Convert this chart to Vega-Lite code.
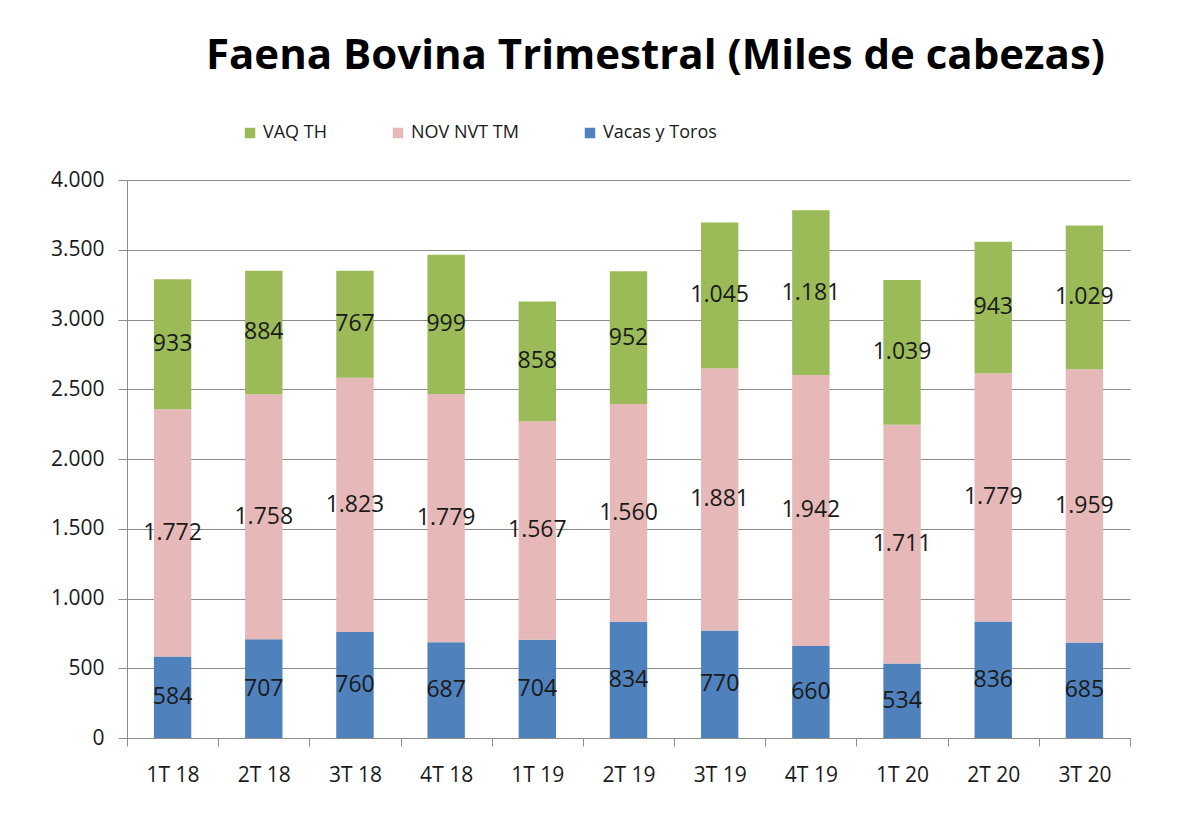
{
  "$schema": "https://vega.github.io/schema/vega-lite/v6.json",
  "autosize": {"type": "none"},
  "width": 1003,
  "height": 558,
  "padding": {"left": 127, "top": 180, "right": 48, "bottom": 85},
  "background": "white",
  "config": {
    "locale": {"number": {"decimal": ",", "thousands": ".", "grouping": [3], "currency": ["$", ""]}},
    "font": "Open Sans",
    "view": {"stroke": null}
  },
  "title": {
    "text": "Faena Bovina Trimestral (Miles de cabezas)",
    "font": "Open Sans",
    "fontSize": 42,
    "fontWeight": "bold",
    "color": "#000000",
    "anchor": "middle",
    "frame": "group",
    "dx": 27,
    "offset": 46
  },
  "data": {
    "values": [
      {"q": "1T 18", "serie": "Vacas y Toros", "orden": 1, "v": 584},
      {"q": "1T 18", "serie": "NOV NVT TM", "orden": 2, "v": 1772},
      {"q": "1T 18", "serie": "VAQ TH", "orden": 3, "v": 933},
      {"q": "2T 18", "serie": "Vacas y Toros", "orden": 1, "v": 707},
      {"q": "2T 18", "serie": "NOV NVT TM", "orden": 2, "v": 1758},
      {"q": "2T 18", "serie": "VAQ TH", "orden": 3, "v": 884},
      {"q": "3T 18", "serie": "Vacas y Toros", "orden": 1, "v": 760},
      {"q": "3T 18", "serie": "NOV NVT TM", "orden": 2, "v": 1823},
      {"q": "3T 18", "serie": "VAQ TH", "orden": 3, "v": 767},
      {"q": "4T 18", "serie": "Vacas y Toros", "orden": 1, "v": 687},
      {"q": "4T 18", "serie": "NOV NVT TM", "orden": 2, "v": 1779},
      {"q": "4T 18", "serie": "VAQ TH", "orden": 3, "v": 999},
      {"q": "1T 19", "serie": "Vacas y Toros", "orden": 1, "v": 704},
      {"q": "1T 19", "serie": "NOV NVT TM", "orden": 2, "v": 1567},
      {"q": "1T 19", "serie": "VAQ TH", "orden": 3, "v": 858},
      {"q": "2T 19", "serie": "Vacas y Toros", "orden": 1, "v": 834},
      {"q": "2T 19", "serie": "NOV NVT TM", "orden": 2, "v": 1560},
      {"q": "2T 19", "serie": "VAQ TH", "orden": 3, "v": 952},
      {"q": "3T 19", "serie": "Vacas y Toros", "orden": 1, "v": 770},
      {"q": "3T 19", "serie": "NOV NVT TM", "orden": 2, "v": 1881},
      {"q": "3T 19", "serie": "VAQ TH", "orden": 3, "v": 1045},
      {"q": "4T 19", "serie": "Vacas y Toros", "orden": 1, "v": 660},
      {"q": "4T 19", "serie": "NOV NVT TM", "orden": 2, "v": 1942},
      {"q": "4T 19", "serie": "VAQ TH", "orden": 3, "v": 1181},
      {"q": "1T 20", "serie": "Vacas y Toros", "orden": 1, "v": 534},
      {"q": "1T 20", "serie": "NOV NVT TM", "orden": 2, "v": 1711},
      {"q": "1T 20", "serie": "VAQ TH", "orden": 3, "v": 1039},
      {"q": "2T 20", "serie": "Vacas y Toros", "orden": 1, "v": 836},
      {"q": "2T 20", "serie": "NOV NVT TM", "orden": 2, "v": 1779},
      {"q": "2T 20", "serie": "VAQ TH", "orden": 3, "v": 943},
      {"q": "3T 20", "serie": "Vacas y Toros", "orden": 1, "v": 685},
      {"q": "3T 20", "serie": "NOV NVT TM", "orden": 2, "v": 1959},
      {"q": "3T 20", "serie": "VAQ TH", "orden": 3, "v": 1029}
    ]
  },
  "transform": [
    {"stack": "v", "groupby": ["q"], "sort": [{"field": "orden", "order": "ascending"}], "as": ["y0", "y1"]},
    {"calculate": "(datum.y0 + datum.y1) / 2", "as": "ymid"}
  ],
  "encoding": {
    "x": {
      "field": "q",
      "type": "nominal",
      "sort": null,
      "title": null,
      "scale": {"paddingInner": 0, "paddingOuter": 0},
      "axis": {
        "labelAngle": 0,
        "labelFontSize": 21,
        "labelColor": "#1a1a1a",
        "labelPadding": 18,
        "domainColor": "#8c8c8c",
        "tickColor": "#8c8c8c",
        "tickSize": 8,
        "ticks": true,
        "tickBand": "extent",
        "grid": false
      }
    }
  },
  "layer": [
    {
      "mark": {"type": "bar", "width": {"band": 0.41}},
      "encoding": {
        "y": {
          "field": "y1",
          "type": "quantitative",
          "title": null,
          "scale": {"domain": [0, 4000], "nice": false},
          "axis": {
            "values": [0, 500, 1000, 1500, 2000, 2500, 3000, 3500, 4000],
            "format": ",d",
            "labelFontSize": 21,
            "labelColor": "#1a1a1a",
            "labelPadding": 14,
            "domainColor": "#8c8c8c",
            "tickColor": "#8c8c8c",
            "tickSize": 9,
            "gridColor": "#8c8c8c",
            "gridOpacity": 1
          }
        },
        "y2": {"field": "y0"},
        "color": {
          "field": "serie",
          "type": "nominal",
          "scale": {
            "domain": ["VAQ TH", "NOV NVT TM", "Vacas y Toros"],
            "range": ["#9BBB59", "#E6B9B8", "#4F81BD"]
          },
          "legend": {
            "title": null,
            "orient": "none",
            "direction": "horizontal",
            "columns": 3,
            "legendX": 114,
            "legendY": -56,
            "padding": 0,
            "symbolType": "square",
            "symbolSize": 110,
            "symbolStrokeWidth": 0,
            "labelFontSize": 18,
            "labelColor": "#1a1a1a",
            "labelOffset": 4,
            "columnPadding": 62
          }
        }
      }
    },
    {
      "mark": {"type": "text", "fontSize": 23, "color": "#1a1a1a", "baseline": "middle", "align": "center"},
      "encoding": {
        "y": {"field": "ymid", "type": "quantitative"},
        "text": {"field": "v", "type": "quantitative", "format": ",d"}
      }
    }
  ]
}
